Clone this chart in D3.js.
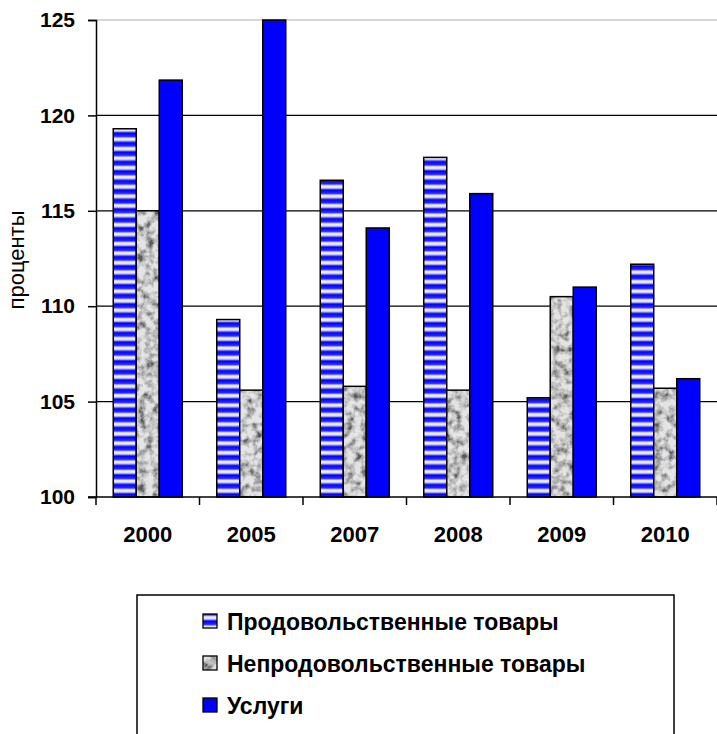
<!DOCTYPE html>
<html>
<head>
<meta charset="utf-8">
<script src="https://cdn.jsdelivr.net/npm/d3@7"></script>
<style>
  body { margin: 0; background: #fff; }
  svg { display: block; }
</style>
</head>
<body>
<div id="chart"></div>
<script>
  "use strict";

  /* data */
  var years = ["2000", "2005", "2007", "2008", "2009", "2010"];
  var seriesNames = ["Продовольственные товары", "Непродовольственные товары", "Услуги"];
  var food = [119.3, 109.3, 116.6, 117.8, 105.2, 112.2];
  var nonFood = [115.0, 105.6, 105.8, 105.6, 110.5, 105.7];
  var services = [121.85, 125.0, 114.1, 115.9, 111.0, 106.2];
  var yTicks = [100, 105, 110, 115, 120, 125];

  var W = 717, H = 734;
  var plotL = 96, plotR = 717, plotT = 20, plotB = 497;
  var FONT = "'Liberation Sans', Arial, sans-serif";

  var svg = d3.select("#chart").append("svg")
    .attr("width", W).attr("height", H);

  var defs = svg.append("defs");

  /* horizontal blue/white stripes */
  var grad = defs.append("linearGradient").attr("id", "stripeGrad")
    .attr("x1", 0).attr("y1", 0).attr("x2", 0).attr("y2", 1);
  grad.append("stop").attr("offset", "0%").attr("stop-color", "#0000ff");
  grad.append("stop").attr("offset", "35%").attr("stop-color", "#2828ff");
  grad.append("stop").attr("offset", "58%").attr("stop-color", "#ffffff");
  grad.append("stop").attr("offset", "80%").attr("stop-color", "#d0d0ff");
  grad.append("stop").attr("offset", "100%").attr("stop-color", "#0000ff");
  var pat = defs.append("pattern").attr("id", "stripes")
    .attr("patternUnits", "userSpaceOnUse").attr("width", 8).attr("height", 9.5);
  pat.append("rect").attr("width", 8).attr("height", 9.5).attr("fill", "url(#stripeGrad)");

  /* grey mottled texture */
  var f = defs.append("filter").attr("id", "noise")
    .attr("x", 0).attr("y", 0).attr("width", "100%").attr("height", "100%");
  f.append("feTurbulence").attr("type", "fractalNoise")
    .attr("baseFrequency", 0.13).attr("numOctaves", 3).attr("seed", 4).attr("result", "t");
  f.append("feColorMatrix").attr("in", "t").attr("type", "matrix")
    .attr("values", "0 0 0 0 0  0 0 0 0 0  0 0 0 0 0  0 0 0 -2.4 1.5")
    .attr("result", "a");
  f.append("feFlood").attr("flood-color", "#e4e4e4").attr("result", "bg");
  f.append("feFlood").attr("flood-color", "#5a5a5a").attr("result", "dk");
  f.append("feComposite").attr("in", "dk").attr("in2", "a").attr("operator", "in").attr("result", "dka");
  f.append("feMerge").attr("result", "mix").call(function (m) {
    m.append("feMergeNode").attr("in", "bg");
    m.append("feMergeNode").attr("in", "dka");
  });
  f.append("feComposite").attr("in", "mix").attr("in2", "SourceGraphic").attr("operator", "in");

  var fills = ["url(#stripes)", "#bdbdbd", "#0000ff"];
  var values = [food, nonFood, services];

  var x = d3.scaleBand().domain(years).range([plotL, plotR]).paddingInner(0).paddingOuter(0);
  var y = d3.scaleLinear().domain([100, 125]).range([plotB, plotT]);

  /* gridlines */
  svg.append("g").selectAll("line").data(yTicks.slice(1))
    .enter().append("line")
      .attr("x1", plotL).attr("x2", plotR)
      .attr("y1", function (d) { return y(d); })
      .attr("y2", function (d) { return y(d); })
      .attr("stroke", function (d) { return d === 125 ? "#c8c8c8" : "#000"; })
      .attr("stroke-width", 1.3);

  /* bars */
  var barW = 23;
  var g0 = (x.bandwidth() - 3 * barW) / 2;
  values.forEach(function (vals, s) {
    var g = svg.append("g");
    g.selectAll("rect.fill").data(vals).enter().append("rect")
      .attr("x", function (d, i) { return x(years[i]) + g0 + s * barW; })
      .attr("y", function (d) { return y(d); })
      .attr("width", barW)
      .attr("height", function (d) { return y(100) - y(d); })
      .attr("fill", fills[s])
      .attr("filter", s === 1 ? "url(#noise)" : null);
    g.selectAll("rect.edge").data(vals).enter().append("rect")
      .attr("x", function (d, i) { return x(years[i]) + g0 + s * barW; })
      .attr("y", function (d) { return y(d); })
      .attr("width", barW)
      .attr("height", function (d) { return y(100) - y(d); })
      .attr("fill", "none")
      .attr("stroke", "#000").attr("stroke-width", 1.5);
  });

  /* axes */
  var yAxis = svg.append("g").attr("transform", "translate(" + plotL + ",0)")
    .call(d3.axisLeft(y).tickValues(yTicks).tickSize(8).tickPadding(13));
  yAxis.select(".domain").attr("stroke", "#000").attr("stroke-width", 1.5);
  yAxis.selectAll(".tick line").attr("stroke", "#000").attr("stroke-width", 1.5);
  yAxis.selectAll("text")
    .style("font-family", FONT)
    .style("font-size", "21px").style("font-weight", "bold").attr("fill", "#000");

  var xAxis = svg.append("g").attr("transform", "translate(0," + plotB + ")");
  xAxis.append("line").attr("x1", plotL - 8).attr("x2", plotR)
    .attr("stroke", "#000").attr("stroke-width", 1.5);
  xAxis.selectAll("line.tk").data(years.concat(["end"])).enter().append("line")
    .attr("x1", function (d, i) { return plotL + i * x.bandwidth(); })
    .attr("x2", function (d, i) { return plotL + i * x.bandwidth(); })
    .attr("y1", 0).attr("y2", 8)
    .attr("stroke", "#000").attr("stroke-width", 1.5);
  xAxis.selectAll("text").data(years).enter().append("text")
    .attr("x", function (d) { return x(d) + x.bandwidth() / 2; })
    .attr("y", 45)
    .attr("text-anchor", "middle")
    .style("font-family", FONT)
    .style("font-size", "22px").style("font-weight", "bold")
    .text(function (d) { return d; });

  /* y title */
  svg.append("text")
    .attr("transform", "translate(24,260) rotate(-90)")
    .attr("text-anchor", "middle")
    .style("font-family", FONT)
    .style("font-size", "22px")
    .text("проценты");

  /* legend */
  svg.append("rect").attr("x", 137).attr("y", 595).attr("width", 537).attr("height", 150)
    .attr("fill", "#fff").attr("stroke", "#000").attr("stroke-width", 1.5);
  var lg = svg.append("g").selectAll("g").data(seriesNames).enter().append("g")
    .attr("transform", function (d, i) { return "translate(203," + (621 + i * 42) + ")"; });
  lg.append("rect").attr("x", 0).attr("y", -7).attr("width", 14).attr("height", 14)
    .attr("fill", function (d, i) { return fills[i]; })
    .attr("filter", function (d, i) { return i === 1 ? "url(#noise)" : null; });
  lg.append("rect").attr("x", 0).attr("y", -7).attr("width", 14).attr("height", 14)
    .attr("fill", "none").attr("stroke", "#000").attr("stroke-width", 1.3);
  lg.append("text").attr("x", 24).attr("y", 9)
    .style("font-family", FONT)
    .style("font-size", "23px").style("font-weight", "bold")
    .text(function (d) { return d; });
</script>
</body>
</html>
